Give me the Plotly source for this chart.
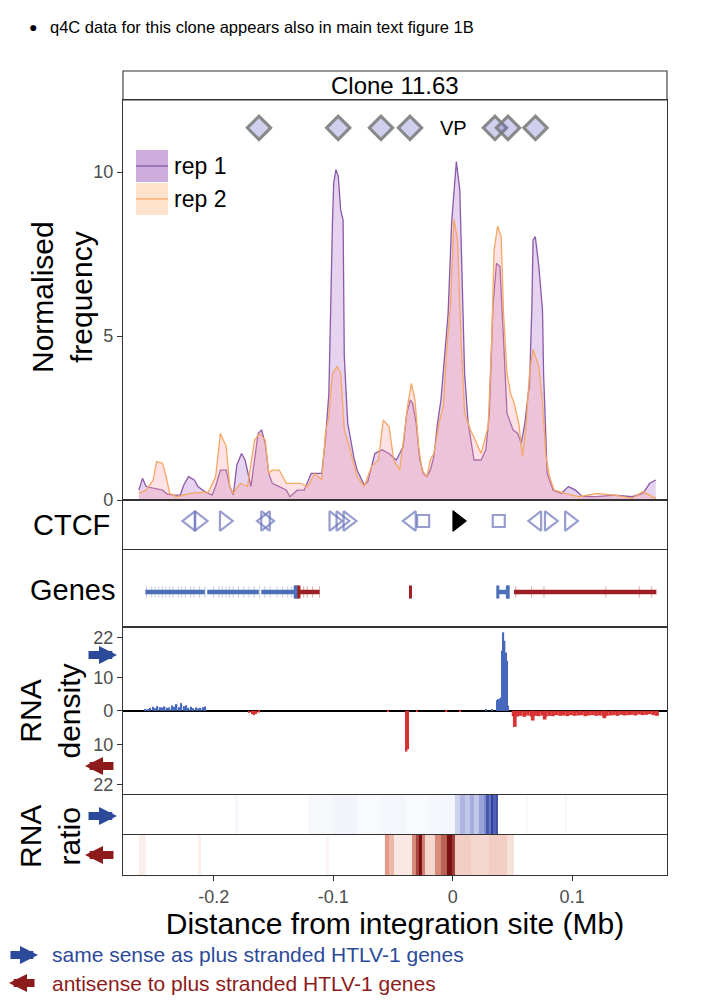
import plotly.graph_objects as go
from plotly.subplots import make_subplots

# ---------------- data ----------------
# q4C profiles: distance from integration site (Mb) vs normalised frequency
rep1_mb = [-0.2626, -0.2596, -0.2566, -0.2487, -0.2428, -0.2389, -0.2339, -0.2280, -0.2250, -0.2211,
           -0.2162, -0.2132, -0.2073, -0.2013, -0.1984, -0.1944, -0.1895, -0.1865, -0.1836, -0.1806,
           -0.1767, -0.1737, -0.1688, -0.1658, -0.1628, -0.1599, -0.1569, -0.1539, -0.1510, -0.1451,
           -0.1391, -0.1362, -0.1302, -0.1243, -0.1184, -0.1125, -0.1095, -0.1065, -0.1036, -0.1006,
           -0.0996, -0.0977, -0.0957, -0.0937, -0.0917, -0.0907, -0.0878, -0.0828, -0.0799, -0.0740,
           -0.0710, -0.0651, -0.0591, -0.0532, -0.0473, -0.0443, -0.0414, -0.0384, -0.0354, -0.0335,
           -0.0305, -0.0275, -0.0246, -0.0216, -0.0187, -0.0157, -0.0127, -0.0098, -0.0068, -0.0038,
           -0.0009, 0.0031, 0.0060, 0.0070, 0.0100, 0.0130, 0.0179, 0.0238, 0.0278, 0.0307,
           0.0337, 0.0367, 0.0396, 0.0426, 0.0455, 0.0505, 0.0544, 0.0574, 0.0604, 0.0633,
           0.0643, 0.0663, 0.0673, 0.0692, 0.0722, 0.0752, 0.0761, 0.0791, 0.0841, 0.0910,
           0.0969, 0.1028, 0.1087, 0.1206, 0.1354, 0.1502, 0.1591, 0.1650, 0.1700]
rep1_freq = [0.30, 0.66, 0.41, 0.36, 0.30, 0.18, 0.15, 0.15, 0.46, 0.71,
             0.61, 0.41, 0.25, 0.15, 0.41, 0.91, 0.91, 0.41, 0.15, 1.07,
             1.42, 1.22, 0.41, 1.22, 2.03, 2.14, 1.73, 0.81, 0.51, 0.41,
             0.30, 0.10, 0.30, 0.30, 0.81, 0.81, 0.81, 1.83, 3.25, 8.44,
             9.65, 10.08, 9.86, 8.84, 8.54, 4.37, 2.34, 1.32, 0.91, 0.46,
             0.56, 1.42, 1.53, 1.42, 1.22, 1.42, 1.63, 2.64, 3.05, 2.95,
             2.34, 1.22, 0.81, 0.71, 0.91, 1.32, 2.34, 3.05, 4.37, 5.69,
             8.44, 10.32, 9.45, 7.93, 3.86, 2.34, 1.22, 1.22, 1.53, 2.64,
             5.90, 7.22, 7.11, 4.88, 2.64, 2.14, 2.03, 1.73, 2.34, 3.25,
             3.46, 5.90, 7.93, 8.03, 7.11, 5.79, 3.86, 0.81, 0.30, 0.20,
             0.41, 0.30, 0.10, 0.10, 0.15, 0.10, 0.20, 0.51, 0.61]

rep2_mb = [-0.2626, -0.2566, -0.2507, -0.2477, -0.2428, -0.2398, -0.2368, -0.2309, -0.2191, -0.2043,
           -0.1984, -0.1944, -0.1895, -0.1865, -0.1836, -0.1776, -0.1717, -0.1658, -0.1618, -0.1569,
           -0.1539, -0.1510, -0.1451, -0.1391, -0.1332, -0.1273, -0.1213, -0.1154, -0.1095, -0.1065,
           -0.1036, -0.1006, -0.0967, -0.0937, -0.0907, -0.0858, -0.0799, -0.0740, -0.0680, -0.0621,
           -0.0581, -0.0532, -0.0493, -0.0443, -0.0404, -0.0374, -0.0345, -0.0315, -0.0285, -0.0256,
           -0.0216, -0.0187, -0.0157, -0.0108, -0.0078, -0.0048, -0.0019, 0.0011, 0.0041, 0.0070,
           0.0100, 0.0149, 0.0189, 0.0238, 0.0297, 0.0327, 0.0347, 0.0376, 0.0406, 0.0426,
           0.0455, 0.0485, 0.0515, 0.0554, 0.0584, 0.0614, 0.0643, 0.0673, 0.0722, 0.0752,
           0.0781, 0.0811, 0.0850, 0.0939, 0.1058, 0.1206, 0.1354, 0.1502, 0.1591, 0.1650, 0.1700]
rep2_freq = [0.20, 0.30, 0.61, 1.17, 1.12, 0.71, 0.20, 0.10, 0.20, 0.25,
             0.71, 2.03, 1.63, 0.41, 0.20, 0.51, 0.41, 1.83, 2.03, 1.83,
             0.81, 0.91, 0.91, 0.51, 0.51, 0.51, 0.41, 0.81, 0.61, 2.03,
             2.54, 3.86, 4.07, 3.86, 2.14, 1.53, 0.71, 0.41, 1.02, 1.22,
             2.44, 2.24, 1.22, 0.91, 2.03, 2.95, 3.56, 3.05, 1.63, 0.91,
             0.71, 1.22, 1.42, 2.44, 2.85, 4.68, 5.90, 8.56, 7.93, 4.88,
             2.64, 2.14, 1.83, 1.42, 2.24, 4.88, 7.62, 8.35, 8.03, 5.69,
             3.86, 3.25, 2.95, 2.34, 1.32, 2.24, 3.86, 4.59, 4.07, 2.95,
             1.32, 0.71, 0.30, 0.20, 0.10, 0.20, 0.15, 0.05, 0.25, 0.15, 0.05]

# viewpoints of the q4C experiment
vp_mb = [-0.1621, -0.0958, -0.0600, -0.0357, 0.0354, 0.0463, 0.0693]
vp_level = 11.35

# CTCF binding sites and their orientation ('+' forward, '-' reverse, '.' unknown)
ctcf_mb = [-0.2190, -0.2123, -0.1912, -0.1566, -0.1566, -0.0995, -0.0936, -0.0877,
           -0.0345, -0.0247, 0.0386, 0.0705, 0.0808, 0.0977]
ctcf_dir = ["-", "+", "+", "+", "-", "+", "+", "+", "-", ".", ".", "-", "+", "+"]
provirus_mb = 0.004

# genes
gene_start = [-0.2572, -0.2054, -0.1602, -0.1291, -0.0360, 0.0374, 0.0513]
gene_end = [-0.2074, -0.1622, -0.1305, -0.1114, -0.0346, 0.0469, 0.1705]
gene_strand = ["+", "+", "+", "-", "-", "+", "-"]
exon_plus = [-0.2562, -0.2518, -0.2489, -0.2459, -0.2429, -0.2400, -0.2370, -0.2341, -0.2296,
             -0.2267, -0.2237, -0.2192, -0.2163, -0.2119, -0.2074, -0.2001, -0.1956, -0.1926,
             -0.1897, -0.1868, -0.1838, -0.1793, -0.1749, -0.1705, -0.1660, -0.1616, -0.1572,
             -0.1527, -0.1469, -0.1424, -0.1380, -0.1350, -0.1321]
exon_minus = [-0.1276, -0.1247, -0.1217, -0.1172, -0.1114, 0.0528, 0.0661, 0.0764, 0.1282,
              0.1562, 0.1666]
block_plus = [-0.1318, -0.1308, 0.0378, 0.0458, 0.0465]
block_minus = [-0.1288, -0.0353]

# RNA density (same sense = up, antisense = down)
sense_mb = [-0.257, -0.255, -0.253, -0.251, -0.249, -0.247, -0.245, -0.243, -0.241, -0.239,
            -0.237, -0.235, -0.233, -0.231, -0.229, -0.227, -0.225, -0.223, -0.221, -0.219,
            -0.217, -0.215, -0.213, -0.211, -0.209, -0.207, 0.028, 0.033,
            0.0375, 0.0385, 0.0395, 0.0405, 0.0415, 0.0425, 0.0435, 0.0445, 0.0455, 0.0465]
sense_val = [0.3, 0.4, 0.9, 1.2, 0.8, 1.4, 1.1, 1.0, 1.3, 0.9,
             1.0, 1.6, 1.2, 2.0, 1.1, 2.3, 1.4, 1.7, 0.9, 1.2,
             0.8, 1.0, 0.7, 0.9, 1.1, 1.3, 0.3, 0.4,
             3.2, 3.5, 3.7, 4.0, 18.0, 23.5, 21.0, 17.5, 15.0, 1.5]
anti_mb = [-0.170, -0.168, -0.166, -0.164, -0.162, -0.0385, -0.0372, -0.054, -0.030, -0.005, 0.006]
anti_val = [0.6, 1.0, 1.3, 0.9, 0.5, 12.2, 11.5, 0.2, 0.2, 0.3, 0.2]
anti_band_mb = [0.051, 0.052, 0.054, 0.057, 0.060, 0.063, 0.066, 0.067, 0.069, 0.072,
                0.075, 0.077, 0.078, 0.081, 0.084, 0.087, 0.090, 0.093, 0.096, 0.099,
                0.102, 0.105, 0.108, 0.111, 0.114, 0.117, 0.120, 0.123, 0.126, 0.127,
                0.129, 0.132, 0.135, 0.138, 0.141, 0.144, 0.147, 0.150, 0.153, 0.156,
                0.159, 0.162, 0.165, 0.168, 0.171]
anti_band_val = [1.6, 4.8, 1.7, 1.5, 1.8, 1.4, 1.7, 2.9, 1.5, 1.6,
                 1.4, 2.6, 1.7, 1.5, 1.6, 1.3, 1.5, 1.4, 1.6, 1.3,
                 1.5, 1.4, 1.3, 1.6, 1.4, 1.3, 1.5, 1.4, 1.6, 2.2,
                 1.5, 1.4, 1.3, 1.5, 1.2, 1.4, 1.3, 1.2, 1.4, 1.1,
                 1.3, 1.2, 1.0, 1.3, 1.5]

# RNA ratio strips: bin edges (Mb) and relative intensity per bin
ratio_plus_edges = [-0.276, -0.182, -0.180, -0.121, -0.100, -0.080, -0.060, -0.040, -0.020, 0.002,
                    0.006, 0.010, 0.014, 0.018, 0.022, 0.026, 0.028, 0.030, 0.032, 0.034,
                    0.036, 0.038, 0.061, 0.063, 0.094, 0.096, 0.180]
ratio_plus = [0, 0.05, 0, 0.04, 0.06, 0.03, 0.05, 0.03, 0.05, 0.25,
              0.4, 0.3, 0.45, 0.3, 0.5, 0.6, 0.85, 0.7, 0.95, 0.8, 0.9,
              0, 0.04, 0, 0.04, 0]
ratio_minus_edges = [-0.276, -0.263, -0.257, -0.213, -0.211, -0.106, -0.104, -0.057, -0.053, -0.049,
                     -0.034, -0.031, -0.028, -0.026, -0.023, -0.015, -0.010, -0.005, -0.001, 0.002,
                     0.015, 0.030, 0.045, 0.051, 0.180]
ratio_minus = [0, 0.08, 0, 0.08, 0, 0.05, 0, 0.5, 0.35, 0.12,
               0.55, 0.8, 1.0, 0.6, 0.2, 0.55, 0.7, 1.0, 0.85, 0.25,
               0.2, 0.25, 0.15, 0]

x_ticks = [-0.2, -0.1, 0, 0.1]
x_ticktext = ["-0.2", "-0.1", "0", "0.1"]
rep_names = ["rep 1", "rep 2"]

# ---------------- styling ----------------
FONT = "Liberation Sans, Arial, sans-serif"
BLUE = "#2c4a9a"
DARKRED = "#8e1b1b"
GENE_BLUE = "#4b70b8"
GENE_RED = "#9c1f23"
CTCF_COL = "#6b74bb"
AX = "#333333"
TICKCOL = "#4d4d4d"
REP_LINE = ["#8a5aa8", "#f5a863"]
REP_FILL = ["rgba(150, 80, 190, 0.25)", "rgba(255, 160, 170, 0.30)"]
REP_KEY = ["rgba(150, 80, 180, 0.48)", "rgba(252, 190, 140, 0.45)"]

fig = make_subplots(rows=6, cols=1, shared_xaxes=True, vertical_spacing=0,
                    row_heights=[400, 50, 77, 168, 40, 40])

# --- q4C profiles
for xs, ys, i in [(rep1_mb, rep1_freq, 0), (rep2_mb, rep2_freq, 1)]:
    fig.add_trace(go.Scatter(x=xs, y=ys, name=rep_names[i], mode="lines", showlegend=False,
                             line=dict(color=REP_LINE[i], width=1.3),
                             fill="tozeroy", fillcolor=REP_FILL[i]), row=1, col=1)
fig.add_trace(go.Scatter(x=vp_mb, y=[vp_level] * len(vp_mb), mode="markers", showlegend=False,
                         marker=dict(symbol="diamond", size=18, color="rgba(95, 98, 198, 0.30)",
                                     line=dict(color="rgba(125, 125, 125, 0.9)", width=3))),
              row=1, col=1)

# --- CTCF
sym = {"+": "triangle-right-open", "-": "triangle-left-open", ".": "square-open"}
siz = {"+": 17, "-": 17, ".": 12}
fig.add_trace(go.Scatter(x=ctcf_mb, y=[0] * len(ctcf_mb), mode="markers", showlegend=False,
                         marker=dict(symbol=[sym[d] for d in ctcf_dir], size=[siz[d] for d in ctcf_dir],
                                     color=CTCF_COL, line=dict(width=2.2, color=CTCF_COL))),
              row=2, col=1)
fig.add_trace(go.Scatter(x=[provirus_mb], y=[0], mode="markers", showlegend=False,
                         marker=dict(symbol="triangle-right", size=18, color="black",
                                     line=dict(width=1, color="black"))), row=2, col=1)


# --- genes
def segs(xs0, xs1, y0, y1):
    xs, ys = [], []
    for a, b in zip(xs0, xs1):
        xs += [a, b, None]
        ys += [y0, y1, None]
    return xs, ys


for strand, col, tick_col, exons, blocks in [("+", GENE_BLUE, "#b3c1e6", exon_plus, block_plus),
                                              ("-", GENE_RED, "#d49a9a", exon_minus, block_minus)]:
    s0 = [a for a, s in zip(gene_start, gene_strand) if s == strand]
    s1 = [b for b, s in zip(gene_end, gene_strand) if s == strand]
    xs, ys = segs(exons, exons, -0.15, 0.15)
    fig.add_trace(go.Scatter(x=xs, y=ys, mode="lines", showlegend=False,
                             line=dict(color=tick_col, width=0.8)), row=3, col=1)
    xs, ys = segs(s0, s1, 0, 0)
    fig.add_trace(go.Scatter(x=xs, y=ys, mode="lines", showlegend=False,
                             line=dict(color=col, width=4.5)), row=3, col=1)
    xs, ys = segs(blocks, blocks, -0.17, 0.17)
    fig.add_trace(go.Scatter(x=xs, y=ys, mode="lines", showlegend=False,
                             line=dict(color=col, width=3)), row=3, col=1)

# --- RNA density
fig.add_trace(go.Bar(x=sense_mb, y=sense_val, width=0.0012, marker=dict(color="#4668bd", line_width=0),
                     showlegend=False), row=4, col=1)
fig.add_trace(go.Bar(x=anti_mb, y=[-v for v in anti_val], width=0.0012,
                     marker=dict(color="#d83232", line_width=0), showlegend=False), row=4, col=1)
fig.add_trace(go.Bar(x=anti_band_mb, y=[-v for v in anti_band_val], width=0.0031,
                     marker=dict(color="#d83232", line_width=0), showlegend=False), row=4, col=1)

# --- RNA ratio strips
fig.add_trace(go.Heatmap(x=ratio_plus_edges, y=[0], z=[ratio_plus], zmin=0, zmax=1, showscale=False,
                         colorscale=[[0, "#ffffff"], [0.5, "#9aa4da"], [1, "#22369a"]]), row=5, col=1)
fig.add_trace(go.Heatmap(x=ratio_minus_edges, y=[0], z=[ratio_minus], zmin=0, zmax=1, showscale=False,
                         colorscale=[[0, "#ffffff"], [0.5, "#e39a86"], [1, "#7a0f0f"]]), row=6, col=1)

# ---------------- axes ----------------
frame = dict(showline=True, mirror=True, linecolor=AX, linewidth=1.1, showgrid=False, zeroline=False)
for r in range(1, 7):
    fig.update_xaxes(range=[-0.2759, 0.1794], ticks="", showticklabels=False, row=r, col=1, **frame)
fig.update_xaxes(row=6, col=1, ticks="outside", ticklen=5, tickcolor=AX, showticklabels=True,
                 tickvals=x_ticks, ticktext=x_ticktext,
                 tickfont=dict(size=18, color=TICKCOL, family=FONT),
                 title=dict(text="Distance from integration site (Mb)", standoff=4,
                            font=dict(size=30, color="black", family=FONT)))

yfont = dict(size=18, color=TICKCOL, family=FONT)
fig.update_yaxes(row=1, col=1, range=[0, 12.2], tickvals=[0, 5, 10], ticks="outside", ticklen=5,
                 tickcolor=AX, tickfont=yfont, **frame)
fig.update_yaxes(row=2, col=1, range=[-1.16, 0.84], showticklabels=False, ticks="", **frame)
fig.update_yaxes(row=3, col=1, range=[-0.909, 1.091], showticklabels=False, ticks="", **frame)
fig.update_yaxes(row=4, col=1, range=[-25.2, 25.1], tickvals=[-22, -10, 0, 10, 22],
                 ticktext=["22", "10", "0", "10", "22"], ticks="outside", ticklen=5, tickcolor=AX,
                 tickfont=yfont, showline=True, mirror=True, linecolor=AX, linewidth=1.1,
                 showgrid=False, zeroline=True, zerolinecolor="black", zerolinewidth=1.6)
fig.update_yaxes(row=5, col=1, range=[-0.5, 0.5], showticklabels=False, ticks="", **frame)
fig.update_yaxes(row=6, col=1, range=[-0.5, 0.5], showticklabels=False, ticks="", **frame)

# ---------------- annotations ----------------
ann = []
shapes = [dict(type="rect", xref="paper", yref="paper", x0=0, x1=1, y0=1.0, y1=1.0374,
               line=dict(color=AX, width=1.1), fillcolor="rgba(0,0,0,0)")]


def label(text, x, y, size, angle=0, xanchor="center", color="black"):
    ann.append(dict(text=text, x=x, y=y, xref="paper", yref="paper", showarrow=False,
                    textangle=angle, xanchor=xanchor, yanchor="middle",
                    font=dict(size=size, color=color, family=FONT)))


label("Normalised<br>frequency", -0.1121, 0.7458, 30, angle=-90)
label("CTCF", -0.0202, 0.4516, 29, xanchor="right")
label("Genes", -0.011, 0.3677, 29, xanchor="right")
label("RNA<br>density", -0.1333, 0.2116, 30, angle=-90)
label("RNA<br>ratio", -0.1342, 0.0503, 30, angle=-90)
label("Clone 11.63", 0.5, 1.0187, 24)
label("●", -0.1654, 1.0942, 14)
label("q4C data for this clone appears also in main text figure 1B", -0.1379, 1.0942, 16.5,
      xanchor="left")
label("same sense as plus stranded HTLV-1 genes", -0.1342, -0.1032, 21, xanchor="left", color=BLUE)
label("antisense to plus stranded HTLV-1 genes", -0.1342, -0.1394, 21, xanchor="left", color=DARKRED)
ann.append(dict(text="VP", x=0.001, y=vp_level, xref="x", yref="y", showarrow=False,
                font=dict(size=20, color="black", family=FONT)))

# replicate key (filled box with line, as in the original legend)
for i, (ytop, ybot) in enumerate([(0.9355, 0.8942), (0.8929, 0.8516)]):
    shapes.append(dict(type="rect", xref="paper", yref="paper", x0=0.0239, x1=0.0827,
                       y0=ybot, y1=ytop, line=dict(width=0), fillcolor=REP_KEY[i]))
    ym = (ytop + ybot) / 2
    shapes.append(dict(type="line", xref="paper", yref="paper", x0=0.0239, x1=0.0827,
                       y0=ym, y1=ym, line=dict(color=REP_LINE[i], width=1.3)))
    label(rep_names[i], 0.0901, ym, 23, xanchor="left")


def arrow(x_tip, y, dx, color):
    ann.append(dict(text="", x=x_tip, y=y, xref="paper", yref="paper", ax=dx, ay=0,
                    showarrow=True, arrowhead=2, arrowsize=0.45, arrowwidth=8, arrowcolor=color,
                    standoff=0))


arrow(-0.011, 0.2839, -30, BLUE)
arrow(-0.0699, 0.1406, 30, DARKRED)
arrow(-0.011, 0.0761, -30, BLUE)
arrow(-0.0699, 0.0258, 30, DARKRED)
arrow(-0.1563, -0.1032, -29, BLUE)
arrow(-0.2132, -0.1394, 29, DARKRED)

# the page adds an 8 px body margin, so the figure is drawn 8 px smaller with shifted margins
fig.update_layout(
    width=700, height=993,
    margin=dict(l=115, r=41, t=92, b=126),
    paper_bgcolor="white", plot_bgcolor="white",
    barmode="overlay",
    font=dict(family=FONT),
    annotations=ann,
    shapes=shapes,
    showlegend=False,
)

fig.write_html("out.html")
